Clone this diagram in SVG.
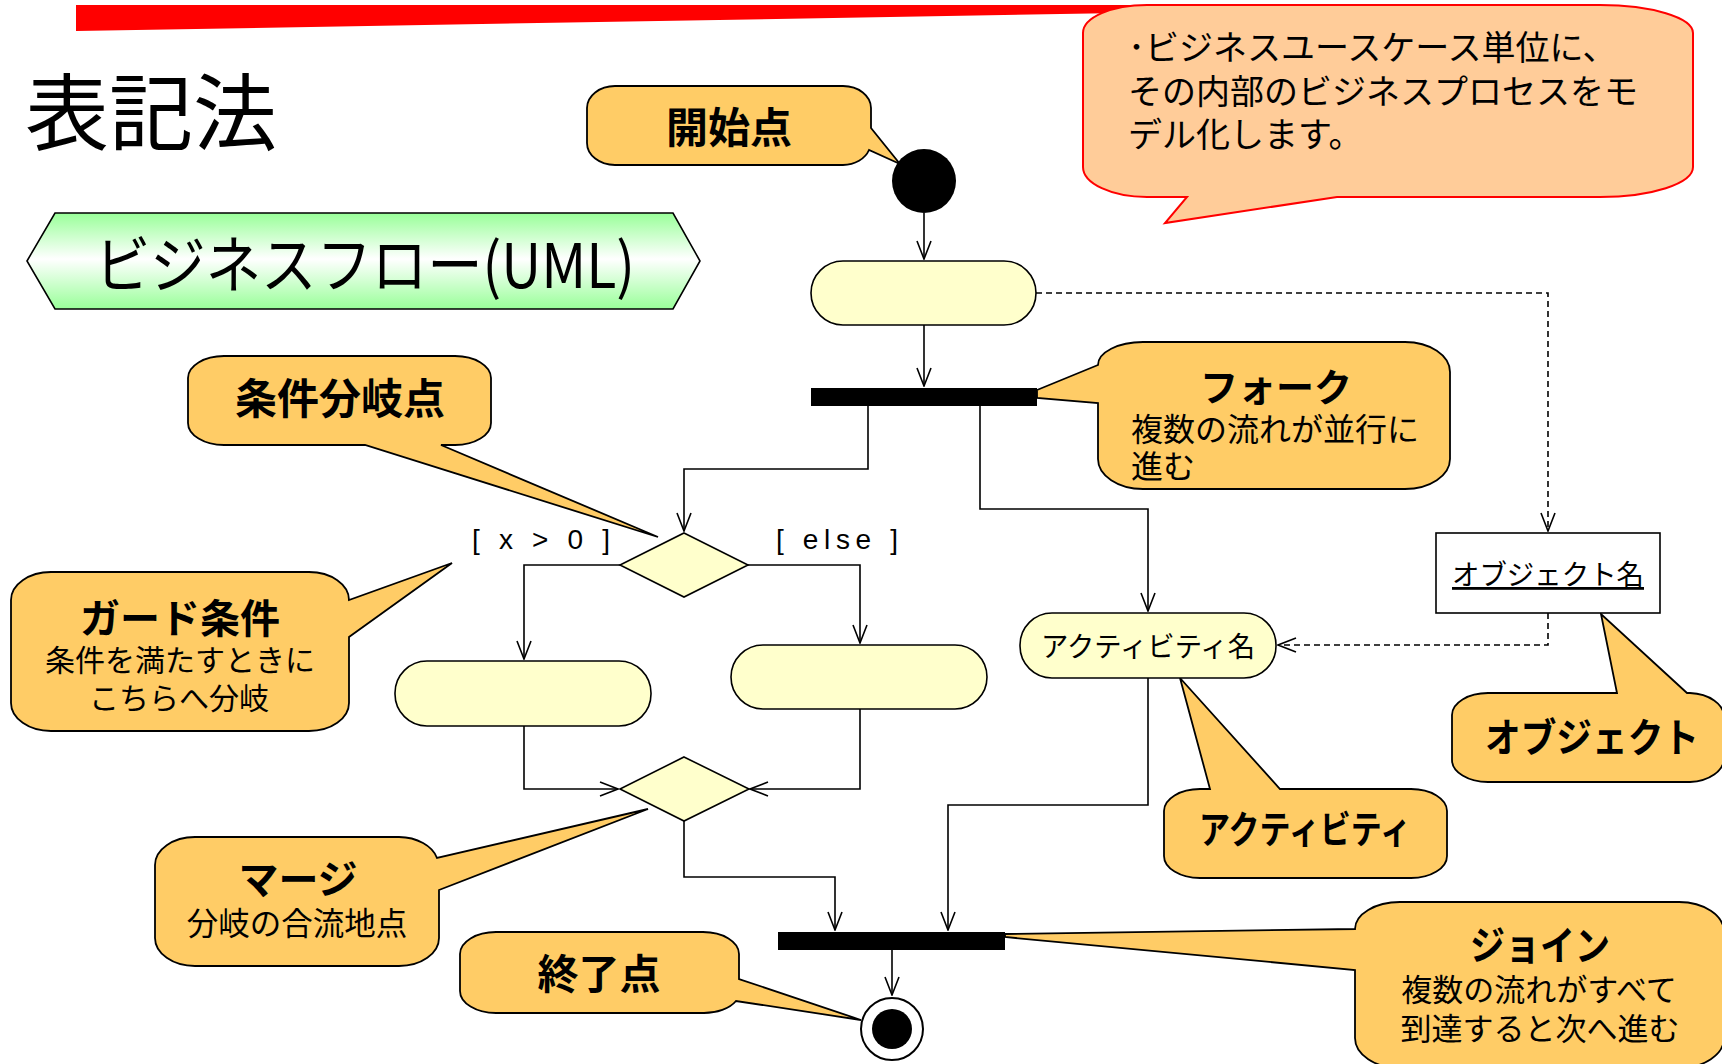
<svg xmlns="http://www.w3.org/2000/svg" width="1722" height="1064" viewBox="0 0 1722 1064">
<style>
text{font-family:"Noto Sans CJK JP","Noto Sans CJK SC",sans-serif;fill:#000}
.co{fill:#FFCC66;stroke:#000;stroke-width:1.8;stroke-linejoin:miter}
.act{fill:#FFFFCC;stroke:#000;stroke-width:1.6}
.conn{fill:none;stroke:#000;stroke-width:1.6}
.dash{stroke-dasharray:6,4}
.bar{fill:#000}
.tt{font-weight:bold;text-anchor:middle}
.st{text-anchor:middle}
.grd{font-family:"Liberation Sans","Noto Sans",sans-serif}
</style>
<defs>
<linearGradient id="gr" x1="0" y1="0" x2="0" y2="1">
<stop offset="0" stop-color="#99FF99"/>
<stop offset="0.48" stop-color="#FFFFFF"/>
<stop offset="1" stop-color="#99FF99"/>
</linearGradient>
<marker id="ar" viewBox="0 0 20 16" refX="19" refY="8" markerWidth="20" markerHeight="16" markerUnits="userSpaceOnUse" orient="auto">
<path d="M1,1 L19,8 L1,15" fill="none" stroke="#000" stroke-width="1.6"/>
</marker>
</defs>

<g id="header">
<polygon points="76,5 1150,5 1150,12.5 76,31" fill="#FF0000"/>
<text x="25" y="144" font-size="84">表記法</text>
</g>

<g id="note">
<path d="M1147,5 H1600 A93,28 0 0 1 1693,33 V167 A93,30 0 0 1 1600,197 H1337 L1165,223 L1187,197 H1147 A64,30 0 0 1 1083,167 V33 A64,28 0 0 1 1147,5 Z" fill="#FFCC99" stroke="#FF0000" stroke-width="2"/>
<text x="1128" y="60" font-size="34">･ビジネスユースケース単位に、</text>
<text x="1128" y="104" font-size="34">その内部のビジネスプロセスをモ</text>
<text x="1128" y="147" font-size="34">デル化します。</text>
</g>

<g id="banner">
<polygon points="27,261 55,213 673,213 700,261 673,309 55,309" fill="url(#gr)" stroke="#000" stroke-width="1.6"/>
<text x="95" y="288" font-size="62" textLength="540" lengthAdjust="spacingAndGlyphs">ビジネスフロー(UML)</text>
</g>

<g id="callouts">
<g id="c-start">
<path class="co" d="M615,86 H843 A28,22 0 0 1 871,108 V128 L900,164 L869,150 A28,22 0 0 1 843,165 H615 A28,22 0 0 1 587,143 V108 A28,22 0 0 1 615,86 Z"/>
<text class="tt" x="729" y="143" font-size="42">開始点</text>
</g>
<g id="c-branch">
<path class="co" d="M224,356 H455 A36,22 0 0 1 491,378 V423 A36,22 0 0 1 455,445 H441 L658,537 L365,445 H224 A36,22 0 0 1 188,423 V378 A36,22 0 0 1 224,356 Z"/>
<text class="tt" x="340" y="414" font-size="42">条件分岐点</text>
</g>
<g id="c-guard">
<path class="co" d="M51,572 H309 A40,28 0 0 1 349,600 L452,563 L349,637 V703 A40,28 0 0 1 309,731 H51 A40,28 0 0 1 11,703 V600 A40,28 0 0 1 51,572 Z"/>
<text class="tt" x="180" y="633" font-size="40">ガード条件</text>
<text class="st" x="180" y="671" font-size="30">条件を満たすときに</text>
<text class="st" x="179" y="709" font-size="30">こちらへ分岐</text>
</g>
<g id="c-merge">
<path class="co" d="M195,837 H399 A40,28 0 0 1 437,858 L648,809 L439,890 V938 A40,28 0 0 1 399,966 H195 A40,28 0 0 1 155,938 V865 A40,28 0 0 1 195,837 Z"/>
<text class="tt" x="298" y="894" font-size="40">マージ</text>
<text class="st" x="297" y="935" font-size="31.5">分岐の合流地点</text>
</g>
<g id="c-end">
<path class="co" d="M496,932 H703 A36,22 0 0 1 739,954 V979 L861,1020 L736,1001 A36,22 0 0 1 703,1013 H496 A36,22 0 0 1 460,991 V954 A36,22 0 0 1 496,932 Z"/>
<text class="tt" x="599" y="989" font-size="41">終了点</text>
</g>
<g id="c-fork">
<path class="co" d="M1143,342 H1405 A45,30 0 0 1 1450,372 V459 A45,30 0 0 1 1405,489 H1143 A45,30 0 0 1 1098,459 V403 L1037,398 L1037,390 L1098,365 A45,23 0 0 1 1143,342 Z"/>
<text class="tt" x="1276" y="401" font-size="38">フォーク</text>
<text x="1131" y="441" font-size="32">複数の流れが並行に</text>
<text x="1131" y="478" font-size="32">進む</text>
</g>
<g id="c-activity">
<path class="co" d="M1200,789 H1210 L1180,678 L1280,789 H1411 A36,22 0 0 1 1447,811 V856 A36,22 0 0 1 1411,878 H1200 A36,22 0 0 1 1164,856 V811 A36,22 0 0 1 1200,789 Z"/>
<text class="tt" x="1305" y="843" font-size="38" textLength="212" lengthAdjust="spacingAndGlyphs">アクティビティ</text>
</g>
<g id="c-object">
<path class="co" d="M1488,693 H1617 L1601,614 L1687,693 H1690 A36,24 0 0 1 1724,717 V758 A36,24 0 0 1 1690,782 H1488 A36,22 0 0 1 1452,760 V715 A36,22 0 0 1 1488,693 Z"/>
<text class="tt" x="1592" y="752" font-size="40" textLength="214" lengthAdjust="spacingAndGlyphs">オブジェクト</text>
</g>
<g id="c-join">
<path class="co" d="M1400,902 H1679 A45,30 0 0 1 1724,932 V1038 A45,30 0 0 1 1679,1068 H1400 A45,30 0 0 1 1355,1038 V970 L1005,937 L1005,934 L1355,929 A45,27 0 0 1 1400,902 Z"/>
<text class="tt" x="1540" y="960" font-size="40" textLength="140" lengthAdjust="spacingAndGlyphs">ジョイン</text>
<text class="st" x="1539" y="1001" font-size="31">複数の流れがすべて</text>
<text class="st" x="1540" y="1040" font-size="31">到達すると次へ進む</text>
</g>
</g>

<g id="connectors">
<path class="conn" d="M924,213 V259" marker-end="url(#ar)"/>
<path class="conn" d="M924,325 V386" marker-end="url(#ar)"/>
<path class="conn" d="M868,406 V469 H684 V531" marker-end="url(#ar)"/>
<path class="conn" d="M980,406 V509 H1148 V611" marker-end="url(#ar)"/>
<path class="conn dash" d="M1036,293 H1548 V531" marker-end="url(#ar)"/>
<path class="conn" d="M620,565 H524 V659" marker-end="url(#ar)"/>
<path class="conn" d="M748,565 H860 V643" marker-end="url(#ar)"/>
<path class="conn" d="M524,726 V789 H618" marker-end="url(#ar)"/>
<path class="conn" d="M860,709 V789 H750" marker-end="url(#ar)"/>
<path class="conn" d="M684,821 V877 H835 V930" marker-end="url(#ar)"/>
<path class="conn" d="M1148,678 V805 H948 V930" marker-end="url(#ar)"/>
<path class="conn dash" d="M1548,613 V645 H1278" marker-end="url(#ar)"/>
<path class="conn" d="M892,950 V995" marker-end="url(#ar)"/>
<text class="grd" x="472" y="549" font-size="28" textLength="138" lengthAdjust="spacing">[ x &gt; 0 ]</text>
<text class="grd" x="776" y="549" font-size="28" textLength="122" lengthAdjust="spacing">[ else ]</text>
</g>

<g id="start"><circle cx="924" cy="181" r="32" fill="#000"/></g>
<g id="act1"><rect class="act" x="811" y="261" width="225" height="64" rx="32" ry="32"/></g>
<g id="fork"><rect class="bar" x="811" y="388" width="226" height="18"/></g>
<g id="decision"><polygon class="act" points="684,533 748,565 684,597 620,565"/></g>
<g id="act2"><rect class="act" x="395" y="661" width="256" height="65" rx="32" ry="32"/></g>
<g id="act3"><rect class="act" x="731" y="645" width="256" height="64" rx="32" ry="32"/></g>
<g id="activity"><rect class="act" x="1020" y="613" width="256" height="65" rx="32" ry="32"/>
<text class="st" x="1148" y="657" font-size="28" textLength="214" lengthAdjust="spacingAndGlyphs">アクティビティ名</text></g>
<g id="object"><rect x="1436" y="533" width="224" height="80" fill="#FFFFFF" stroke="#000" stroke-width="1.6"/>
<text class="st" x="1548" y="585" font-size="28" textLength="192" lengthAdjust="spacingAndGlyphs" text-decoration="underline">オブジェクト名</text></g>
<g id="merge"><polygon class="act" points="684,757 749,789 684,821 620,789"/></g>
<g id="join"><rect class="bar" x="778" y="932" width="227" height="18"/></g>
<g id="end"><circle cx="892" cy="1029" r="31" fill="#FFFFFF" stroke="#000" stroke-width="2"/><circle cx="892" cy="1029" r="20" fill="#000"/></g>
</svg>
